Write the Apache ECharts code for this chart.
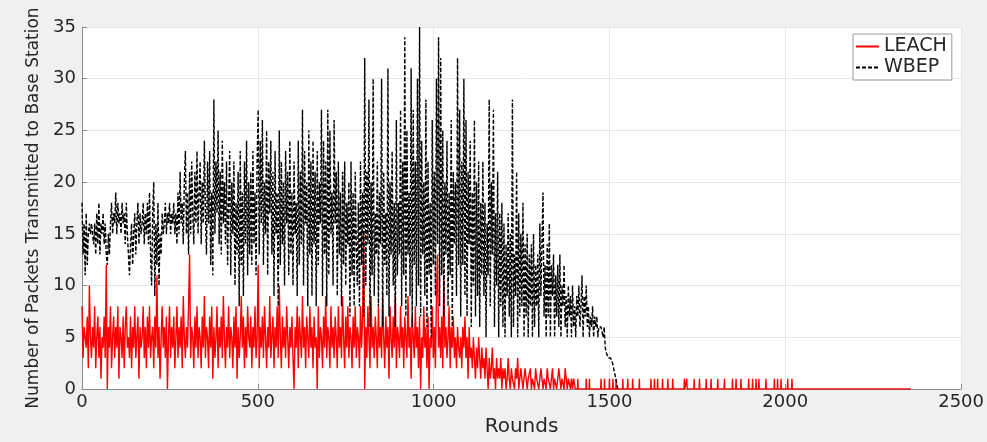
<!DOCTYPE html>
<html>
<head>
<meta charset="utf-8">
<script src="https://cdn.jsdelivr.net/npm/echarts@6/dist/echarts.min.js"></script>
<style>
  html, body { margin: 0; padding: 0; background: #f0f0f0; }
  #chart { width: 987px; height: 442px; }
</style>
</head>
<body>
<div id="chart"></div>
<script>
// rounds between two samples of the dense arrays
const step = 3

// LEACH packets, one value every 3 rounds from round 0 to 1401
const leachValues = [
    8, 3, 6, 5, 4, 7, 2, 10, 5, 3, 6, 4, 8, 2, 5, 7, 3, 6, 1, 5,
    4, 7, 3, 12, 0, 6, 4, 8, 2, 5, 7, 3, 6, 4, 8, 1, 6, 5, 3, 7,
    2, 6, 8, 4, 5, 3, 7, 2, 6, 4, 8, 3, 5, 7, 1, 6, 4, 5, 8, 3,
    6, 2, 7, 4, 8, 3, 5, 6, 2, 7, 4, 11, 3, 6, 1, 5, 8, 4, 6, 3,
    7, 0, 5, 8, 3, 6, 4, 7, 2, 5, 8, 3, 6, 4, 7, 2, 9, 5, 3, 6,
    4, 8, 13, 3, 6, 5, 2, 7, 4, 8, 3, 6, 5, 2, 7, 4, 9, 3, 6, 5,
    2, 7, 4, 8, 1, 6, 3, 5, 8, 2, 6, 4, 7, 3, 9, 5, 2, 6, 4, 8,
    3, 6, 5, 2, 7, 4, 8, 1, 6, 3, 5, 9, 4, 7, 2, 6, 3, 8, 5, 4,
    7, 2, 6, 4, 8, 3, 5, 12, 2, 6, 4, 7, 3, 8, 5, 2, 6, 4, 9, 3,
    5, 7, 2, 6, 4, 8, 3, 10, 5, 2, 7, 4, 6, 3, 8, 5, 2, 6, 4, 7,
    3, 0, 6, 4, 8, 2, 7, 5, 3, 9, 4, 6, 2, 7, 5, 3, 8, 4, 6, 2,
    7, 4, 5, 0, 8, 3, 6, 5, 2, 7, 4, 9, 3, 6, 5, 2, 8, 4, 6, 3,
    7, 5, 2, 8, 4, 6, 3, 9, 5, 2, 7, 4, 8, 3, 6, 5, 2, 7, 4, 8,
    3, 6, 5, 2, 8, 4, 7, 15, 0, 6, 3, 8, 5, 2, 9, 4, 6, 3, 7, 5,
    2, 8, 4, 6, 3, 9, 5, 2, 7, 4, 6, 1, 8, 5, 3, 7, 4, 9, 2, 6,
    5, 3, 8, 4, 6, 2, 7, 5, 3, 9, 4, 6, 1, 7, 5, 3, 8, 4, 6, 2,
    7, 0, 5, 3, 8, 4, 6, 2, 7, 0, 5, 4, 8, 3, 6, 2, 9, 13, 4, 6,
    3, 7, 2, 11, 4, 6, 3, 5, 8, 2, 6, 4, 7, 3, 5, 2, 6, 4, 3, 5,
    2, 6, 4, 7, 3, 5, 1, 6, 3, 4, 2, 5, 3, 1, 4, 2, 5, 3, 1, 4,
    2, 3, 1, 4, 2, 0, 3, 1, 2, 4, 1, 2, 0, 3, 1, 2, 1, 3, 0, 2,
    1, 2, 0, 1, 3, 1, 0, 2, 1, 1, 0, 2, 1, 3, 0, 1, 2, 1, 0, 1,
    2, 1, 0, 1, 1, 2, 0, 1, 1, 0, 2, 1, 1, 0, 1, 2, 1, 0, 1, 1,
    0, 2, 1, 1, 0, 1, 2, 0, 1, 1, 0, 1, 2, 1, 0, 1, 1, 0, 2, 1,
    0, 1, 1, 0, 1, 0, 1, 1
]
// after round 1401 LEACH only sends 1 packet now and then
const leachSpikeRounds = [
    1410, 1434, 1443, 1476, 1486, 1500, 1510, 1519, 1538, 1552, 1566, 1585,
    1618, 1628, 1637, 1651, 1666, 1680, 1713, 1720, 1741, 1756, 1775, 1789,
    1808, 1827, 1850, 1860, 1874, 1896, 1907, 1917, 1925, 1945, 1969, 1978,
    1988, 2007, 2019
]
const leachLastRound = 2357

// WBEP packets, one value every 3 rounds from round 0 to 1524
const wbepValues = [
    18, 13, 16, 11, 17, 12, 15, 16, 15, 16, 15, 14, 16, 13, 17, 14, 18, 13, 16, 15,
    17, 14, 16, 13, 12, 15, 13, 16, 18, 15, 17, 16, 19, 15, 18, 16, 17, 15, 18, 16,
    17, 14, 18, 15, 13, 11, 14, 16, 12, 15, 17, 13, 16, 18, 14, 17, 15, 16, 18, 14,
    17, 15, 18, 14, 19, 13, 10, 17, 20, 9, 16, 12, 18, 10, 15, 13, 17, 15, 16, 18,
    15, 17, 16, 18, 15, 17, 16, 18, 15, 17, 14, 19, 15, 21, 16, 18, 14, 20, 23, 15,
    19, 13, 21, 15, 22, 17, 14, 21, 16, 23, 15, 19, 22, 14, 20, 16, 24, 17, 13, 22,
    16, 23, 12, 19, 11, 28, 15, 22, 17, 25, 14, 21, 13, 24, 16, 20, 14, 22, 12, 18,
    23, 11, 20, 15, 22, 10, 18, 13, 21, 8, 23, 12, 19, 9, 22, 14, 24, 11, 20, 13,
    21, 12, 23, 14, 19, 11, 22, 27, 13, 24, 16, 26, 12, 20, 15, 25, 11, 22, 17, 24,
    13, 21, 9, 23, 15, 19, 8, 25, 12, 22, 14, 20, 10, 23, 16, 21, 11, 24, 13, 19,
    10, 22, 15, 18, 9, 24, 12, 21, 14, 27, 10, 23, 16, 20, 8, 25, 13, 22, 9, 24,
    14, 21, 8, 23, 12, 20, 16, 27, 9, 24, 13, 22, 8, 27, 11, 25, 15, 19, 10, 26,
    16, 21, 9, 22, 13, 19, 8, 21, 12, 22, 10, 18, 14, 20, 7, 22, 11, 19, 8, 21,
    14, 10, 18, 8, 22, 12, 19, 7, 32, 10, 21, 14, 28, 6, 20, 11, 30, 9, 17, 13,
    22, 8, 19, 14, 30, 6, 21, 12, 17, 9, 31, 7, 20, 13, 23, 10, 18, 6, 26, 11,
    18, 13, 27, 8, 22, 11, 34, 7, 25, 13, 19, 9, 31, 6, 27, 12, 22, 8, 30, 10,
    35, 7, 24, 13, 20, 9, 28, 6, 22, 11, 18, 5, 26, 12, 21, 9, 30, 14, 34, 8,
    32, 11, 25, 7, 20, 13, 24, 8, 19, 11, 26, 6, 21, 14, 20, 9, 32, 12, 27, 7,
    22, 12, 30, 9, 26, 7, 21, 14, 24, 6, 19, 10, 26, 7, 20, 9, 22, 6, 18, 11,
    22, 9, 18, 5, 16, 11, 28, 8, 20, 13, 27, 6, 17, 10, 21, 5, 17, 8, 18, 6,
    16, 5, 14, 9, 17, 7, 15, 5, 28, 6, 13, 9, 21, 5, 17, 7, 15, 8, 18, 5,
    14, 7, 15, 5, 13, 8, 14, 5, 15, 6, 12, 8, 13, 5, 16, 9, 14, 19, 7, 12,
    5, 14, 7, 16, 5, 12, 9, 13, 5, 11, 7, 12, 6, 13, 5, 10, 8, 12, 6, 9,
    5, 10, 7, 9, 5, 10, 6, 8, 5, 9, 7, 10, 6, 8, 11, 5, 9, 7, 10, 6,
    8, 5, 7, 6, 8, 5, 7, 6, 7, 5, 6, 6, 6, 6, 5, 6, 4, 3.5, 3.5, 3,
    3, 3, 3, 2.5, 2, 1.5, 1, 0.5, 0
]

const xTicks = [0, 500, 1000, 1500, 2000, 2500]
const yTicks = [0, 5, 10, 15, 20, 25, 30, 35]

function buildLeach () {
    let data = leachValues.map((v, i) => [i * step, v])
    let last = (leachValues.length - 1) * step
    data.push([last + 2, 0])
    for (const r of leachSpikeRounds) {
        data.push([r - 1, 0])
        data.push([r, 1])
        data.push([r + 1, 0])
    }
    data.push([leachLastRound, 0])
    return data
}

function buildWbep () {
    return wbepValues.map((v, i) => [i * step, v])
}

const axisColor = '#8a8a8a'
const textColor = '#262626'
const fontName = 'DejaVu Sans'

let chart = echarts.init(document.getElementById('chart'))
let option = {
    animation: false,
    backgroundColor: '#f0f0f0',
    textStyle: { fontFamily: fontName },
    grid: {
        left: 82,
        right: 25,
        top: 27,
        bottom: 52,
        show: true,
        backgroundColor: '#ffffff',
        borderWidth: 0
    },
    legend: {
        orient: 'vertical',
        left: 853,
        top: 34,
        padding: [3, 5, 3, 2],
        itemGap: 2,
        itemWidth: 23,
        itemHeight: 12,
        itemStyle: { opacity: 0 },
        backgroundColor: '#ffffff',
        borderColor: '#9a9a9a',
        borderWidth: 1,
        borderRadius: 0,
        textStyle: { fontSize: 19, color: textColor, fontFamily: fontName },
        data: ['LEACH', 'WBEP']
    },
    xAxis: {
        type: 'value',
        min: xTicks[0],
        max: xTicks[xTicks.length - 1],
        interval: 500,
        name: 'Rounds',
        nameLocation: 'middle',
        nameGap: 28,
        nameTextStyle: { fontSize: 20, color: textColor, fontFamily: fontName },
        axisLine: { lineStyle: { color: axisColor } },
        axisTick: { inside: true, length: 5, lineStyle: { color: axisColor } },
        axisLabel: {
            fontSize: 18,
            color: textColor,
            margin: 4,
            fontFamily: fontName,
            formatter: (v) => String(v)
        },
        splitLine: { show: true, lineStyle: { color: '#e6e6e6' } }
    },
    yAxis: {
        type: 'value',
        min: yTicks[0],
        max: yTicks[yTicks.length - 1],
        interval: 5,
        name: 'Number of Packets Transmitted to Base Station',
        nameLocation: 'middle',
        nameGap: 37,
        nameTextStyle: { fontSize: 17, color: textColor, fontFamily: fontName },
        axisLine: { show: true, lineStyle: { color: axisColor } },
        axisTick: { show: true, inside: true, length: 5, lineStyle: { color: axisColor } },
        axisLabel: {
            fontSize: 18,
            color: textColor,
            margin: 6,
            fontFamily: fontName,
            formatter: (v) => String(v)
        },
        splitLine: { show: true, lineStyle: { color: '#e6e6e6' } }
    },
    series: [
        {
            name: 'LEACH',
            type: 'line',
            symbol: 'none',
            lineStyle: { color: '#ff0000', width: 1.4 },
            itemStyle: { color: '#ff0000' },
            data: buildLeach()
        },
        {
            name: 'WBEP',
            type: 'line',
            symbol: 'none',
            lineStyle: { color: '#000000', width: 1.4, type: [4, 2] },
            itemStyle: { color: '#000000' },
            data: buildWbep()
        }
    ]
}
chart.setOption(option)
</script>
</body>
</html>
